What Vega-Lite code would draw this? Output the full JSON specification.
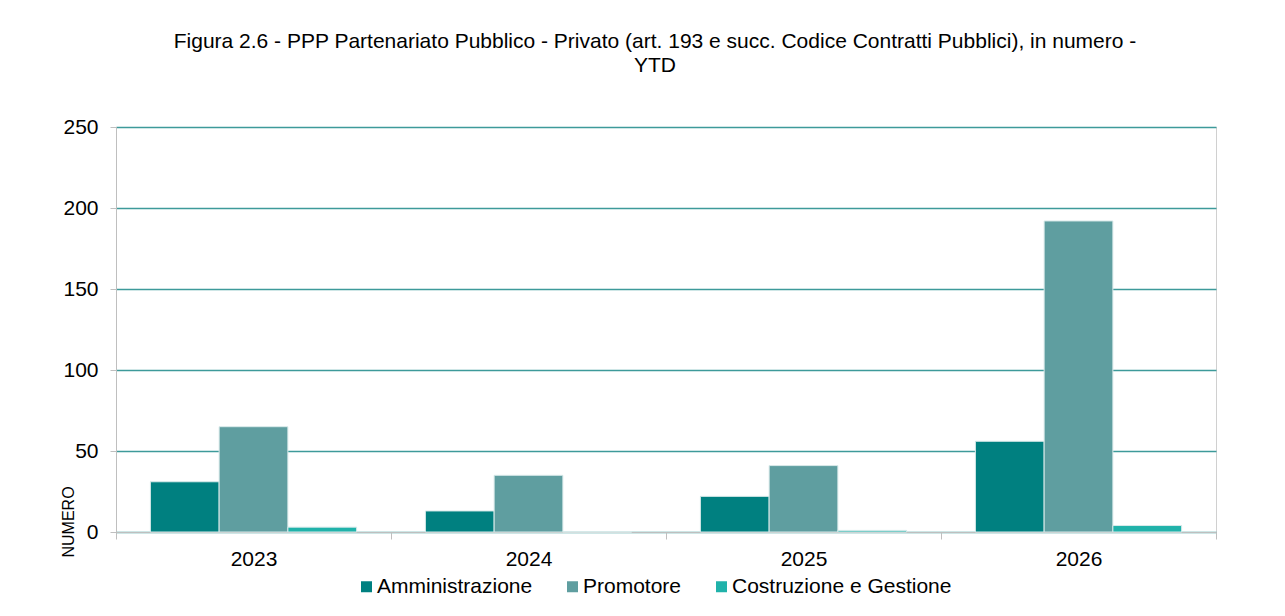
{
  "$schema": "https://vega.github.io/schema/vega-lite/v6.json",
  "width": 1100,
  "height": 405,
  "autosize": {"type": "none"},
  "padding": {"left": 116, "top": 127, "right": 69, "bottom": 84},
  "background": "white",
  "title": {
    "text": ["Figura 2.6 - PPP Partenariato Pubblico - Privato (art. 193 e succ. Codice Contratti Pubblici), in numero -", "YTD"],
    "font": "Liberation Sans",
    "fontSize": 21,
    "fontWeight": "normal",
    "color": "#000000",
    "anchor": "middle",
    "dx": -11,
    "offset": 40,
    "lineHeight": 24
  },
  "data": {
    "values": [
      {"anno": "2023", "serie": "Amministrazione", "valore": 31},
      {"anno": "2023", "serie": "Promotore", "valore": 65},
      {"anno": "2023", "serie": "Costruzione e Gestione", "valore": 3},
      {"anno": "2024", "serie": "Amministrazione", "valore": 13},
      {"anno": "2024", "serie": "Promotore", "valore": 35},
      {"anno": "2024", "serie": "Costruzione e Gestione", "valore": 0},
      {"anno": "2025", "serie": "Amministrazione", "valore": 22},
      {"anno": "2025", "serie": "Promotore", "valore": 41},
      {"anno": "2025", "serie": "Costruzione e Gestione", "valore": 1},
      {"anno": "2026", "serie": "Amministrazione", "valore": 56},
      {"anno": "2026", "serie": "Promotore", "valore": 192},
      {"anno": "2026", "serie": "Costruzione e Gestione", "valore": 4}
    ]
  },
  "mark": {"type": "bar", "stroke": "#d9eaea", "strokeWidth": 1},
  "encoding": {
    "x": {
      "field": "anno",
      "type": "nominal",
      "scale": {"paddingInner": 0, "paddingOuter": 0},
      "axis": {
        "title": null,
        "labelAngle": 0,
        "labelFontSize": 21,
        "labelColor": "#000000",
        "labelPadding": 9,
        "tickBand": "extent",
        "tickSize": 7,
        "tickColor": "#bfbfbf",
        "domainColor": "#bfbfbf",
        "grid": false
      }
    },
    "xOffset": {
      "field": "serie",
      "sort": ["Amministrazione", "Promotore", "Costruzione e Gestione"],
      "scale": {"paddingInner": 0, "paddingOuter": 0.5}
    },
    "y": {
      "field": "valore",
      "type": "quantitative",
      "scale": {"domain": [0, 250], "nice": false},
      "axis": {
        "title": "NUMERO",
        "titleFontSize": 16,
        "titleFontWeight": "normal",
        "titleColor": "#000000",
        "titleAngle": -90,
        "titleAlign": "left",
        "titleBaseline": "middle",
        "titleX": -48,
        "titleY": 430,
        "values": [0, 50, 100, 150, 200, 250],
        "labelFontSize": 21,
        "labelColor": "#000000",
        "labelPadding": 12,
        "tickSize": 6,
        "tickColor": "#bfbfbf",
        "domainColor": "#bfbfbf",
        "grid": true,
        "gridColor": "#3d9a9a",
        "gridWidth": 1.3
      }
    },
    "color": {
      "field": "serie",
      "type": "nominal",
      "sort": ["Amministrazione", "Promotore", "Costruzione e Gestione"],
      "scale": {
        "domain": ["Amministrazione", "Promotore", "Costruzione e Gestione"],
        "range": ["#008080", "#5F9EA0", "#20B2AA"]
      },
      "legend": {
        "orient": "none",
        "direction": "horizontal",
        "legendX": 240,
        "legendY": 449,
        "title": null,
        "symbolType": "square",
        "symbolSize": 121,
        "symbolStrokeWidth": 0,
        "labelFontSize": 21,
        "labelColor": "#000000",
        "labelOffset": 0,
        "labelLimit": 400,
        "columnPadding": 29
      }
    }
  },
  "config": {
    "font": "Liberation Sans",
    "view": {"stroke": "#d0d0d0"}
  }
}
